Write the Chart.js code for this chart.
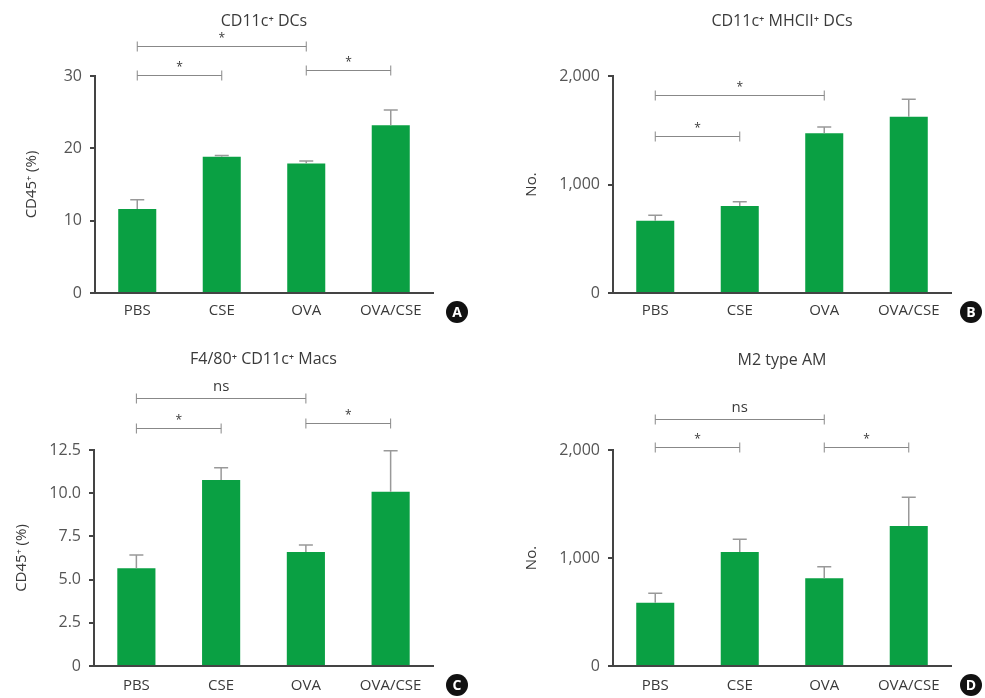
<!DOCTYPE html>
<html>
<head>
<meta charset="utf-8">
<script src="https://cdn.jsdelivr.net/npm/chart.js@4/dist/chart.umd.min.js"></script>
<style>
  html, body { margin: 0; padding: 0; background: #fff; }
  body { width: 985px; height: 698px; position: relative; overflow: hidden; }
  .panel { position: absolute; }
</style>
</head>
<body>
<div class="panel" style="left:0;top:0;width:490px;height:340px"><canvas id="chartA"></canvas></div>
<div class="panel" style="left:490px;top:0;width:495px;height:340px"><canvas id="chartB"></canvas></div>
<div class="panel" style="left:0;top:340px;width:490px;height:358px"><canvas id="chartC"></canvas></div>
<div class="panel" style="left:490px;top:340px;width:495px;height:358px"><canvas id="chartD"></canvas></div>
<script>
// groups
const groups = ['PBS', 'CSE', 'OVA', 'OVA/CSE'];

// A: CD11c+ DCs (% of CD45+)
const dcPct = [11.6, 18.85, 17.9, 23.2];
const dcPctErr = [1.3, 0.15, 0.35, 2.1];
const dcPctSig = [[0, 2, 34.1, '*'], [0, 1, 30.1, '*'], [2, 3, 30.8, '*']];

// B: CD11c+ MHCII+ DCs (number)
const mhcNo = [666, 802, 1472, 1625];
const mhcNoErr = [50, 40, 58, 160];
const mhcNoSig = [[0, 2, 1825, '*'], [0, 1, 1447, '*']];

// C: F4/80+ CD11c+ Macs (% of CD45+)
const macPct = [5.65, 10.76, 6.6, 10.09];
const macPctErr = [0.77, 0.72, 0.4, 2.37];
const macPctSig = [[0, 2, 15.49, 'ns'], [0, 1, 13.79, '*'], [2, 3, 14.05, '*']];

// D: M2 type AM (number)
const m2No = [586, 1056, 812, 1296];
const m2NoErr = [87, 117, 108, 266];
const m2NoSig = [[0, 2, 2290, 'ns'], [0, 1, 2030, '*'], [2, 3, 2030, '*']];

const green = '#0aa043';
const textCol = '#3a3a3a';
const fontName = "'Open Sans', 'Noto Sans', sans-serif";

// upper error whiskers
const errorBars = {
    id: 'errorBars',
    afterDatasetsDraw(chart) {
        const errs = chart.options.plugins.errorBars.errors;
        const meta = chart.getDatasetMeta(0);
        const y = chart.scales.y;
        const ctx = chart.ctx;
        ctx.save();
        ctx.strokeStyle = '#999';
        ctx.lineWidth = 1.5;
        meta.data.forEach((bar, i) => {
            const v = chart.data.datasets[0].data[i];
            const top = y.getPixelForValue(v + errs[i]);
            ctx.beginPath();
            ctx.moveTo(bar.x, bar.y);
            ctx.lineTo(bar.x, top);
            ctx.moveTo(bar.x - 7, top);
            ctx.lineTo(bar.x + 7, top);
            ctx.stroke();
        });
        ctx.restore();
    }
};

// significance brackets, title and panel letter
const decorations = {
    id: 'decorations',
    afterDraw(chart) {
        const o = chart.options.plugins.decorations;
        const ctx = chart.ctx;
        const x = chart.scales.x;
        const y = chart.scales.y;
        const area = chart.chartArea;
        ctx.save();
        o.sig.forEach(s => {
            const x1 = x.getPixelForValue(s[0]);
            const x2 = x.getPixelForValue(s[1]);
            const yy = Math.round(y.getPixelForValue(s[2])) + 0.5;
            ctx.strokeStyle = '#888';
            ctx.lineWidth = 1;
            ctx.beginPath();
            ctx.moveTo(x1, yy); ctx.lineTo(x2, yy);
            ctx.moveTo(x1, yy - 5); ctx.lineTo(x1, yy + 5);
            ctx.moveTo(x2, yy - 5); ctx.lineTo(x2, yy + 5);
            ctx.stroke();
            ctx.fillStyle = textCol;
            ctx.textAlign = 'center';
            ctx.textBaseline = 'alphabetic';
            if (s[3] === '*') {
                ctx.font = '12px ' + fontName;
                ctx.fillText('*', (x1 + x2) / 2, yy - 5);
            } else {
                ctx.font = '15px ' + fontName;
                ctx.fillText(s[3], (x1 + x2) / 2, yy - 8);
            }
        });

        ctx.fillStyle = textCol;
        ctx.font = '16px ' + fontName;
        ctx.textAlign = 'center';
        ctx.textBaseline = 'middle';
        ctx.fillText(o.title, (area.left + area.right) / 2, o.titleY);

        const bx = area.right + o.badgeDx;
        const by = area.bottom + 19;
        ctx.fillStyle = '#111';
        ctx.beginPath();
        ctx.arc(bx, by, 11, 0, Math.PI * 2);
        ctx.fill();
        ctx.fillStyle = '#fff';
        ctx.font = 'bold 14px ' + fontName;
        ctx.fillText(o.letter, bx, by + 1);
        ctx.restore();
    }
};

function makePanel(id, values, errs, sig, cfg) {
    new Chart(document.getElementById(id), {
        type: 'bar',
        data: {
            labels: groups,
            datasets: [{
                data: values,
                backgroundColor: green,
                borderWidth: 0,
                barPercentage: 0.45,
                categoryPercentage: 1
            }]
        },
        options: {
            responsive: true,
            maintainAspectRatio: false,
            animation: false,
            layout: { padding: { left: 0, right: cfg.padRight, top: cfg.padTop, bottom: 0 } },
            plugins: {
                legend: { display: false },
                tooltip: { enabled: false },
                errorBars: { errors: errs },
                decorations: { sig: sig, title: cfg.title, titleY: cfg.titleY, letter: cfg.letter, badgeDx: cfg.badgeDx }
            },
            scales: {
                x: {
                    grid: { display: true, drawOnChartArea: false, drawTicks: false },
                    border: { display: true, color: '#444', width: 2 },
                    ticks: { color: textCol, font: { family: fontName, size: 15 }, padding: cfg.xPad },
                    afterFit: s => { s.height = cfg.xHeight; }
                },
                y: {
                    min: 0,
                    max: cfg.max,
                    ticks: {
                        stepSize: cfg.step,
                        color: '#555',
                        padding: 8,
                        font: { family: fontName, size: 16 },
                        callback: cfg.fmt
                    },
                    grid: { drawOnChartArea: false, drawTicks: true, tickLength: 5, color: '#444', lineWidth: 2 },
                    border: { display: true, color: '#444', width: 2 },
                    title: {
                        display: true,
                        text: cfg.yTitle,
                        color: textCol,
                        font: { family: fontName, size: 15 },
                        padding: { top: cfg.yTitlePad, bottom: 0 }
                    },
                    afterFit: s => { s.width = cfg.yWidth; }
                }
            }
        },
        plugins: [errorBars, decorations]
    });
}

const fmtInt = v => v.toLocaleString('en-US');
const fmtDec = v => v === 0 ? '0' : v.toFixed(1);

makePanel('chartA', dcPct, dcPctErr, dcPctSig, {
    title: 'CD11c\u207A DCs', titleY: 21, letter: 'A', badgeDx: 24,
    max: 30, step: 10, fmt: fmtInt, yTitle: 'CD45\u207A (%)',
    yWidth: 95, yTitlePad: 23, padRight: 57, padTop: 76, xHeight: 47, xPad: 9
});
makePanel('chartB', mhcNo, mhcNoErr, mhcNoSig, {
    title: 'CD11c\u207A MHCII\u207A DCs', titleY: 21, letter: 'B', badgeDx: 20,
    max: 2000, step: 1000, fmt: fmtInt, yTitle: 'No.',
    yWidth: 123, yTitlePad: 33, padRight: 34, padTop: 76, xHeight: 47, xPad: 9
});
makePanel('chartC', macPct, macPctErr, macPctSig, {
    title: 'F4/80\u207A CD11c\u207A Macs', titleY: 19, letter: 'C', badgeDx: 24,
    max: 12.5, step: 2.5, fmt: fmtDec, yTitle: 'CD45\u207A (%)',
    yWidth: 94, yTitlePad: 13, padRight: 57, padTop: 110, xHeight: 32, xPad: 11
});
makePanel('chartD', m2No, m2NoErr, m2NoSig, {
    title: 'M2 type AM', titleY: 20, letter: 'D', badgeDx: 20,
    max: 2000, step: 1000, fmt: fmtInt, yTitle: 'No.',
    yWidth: 123, yTitlePad: 33, padRight: 34, padTop: 110, xHeight: 32, xPad: 11
});
</script>
</body>
</html>
